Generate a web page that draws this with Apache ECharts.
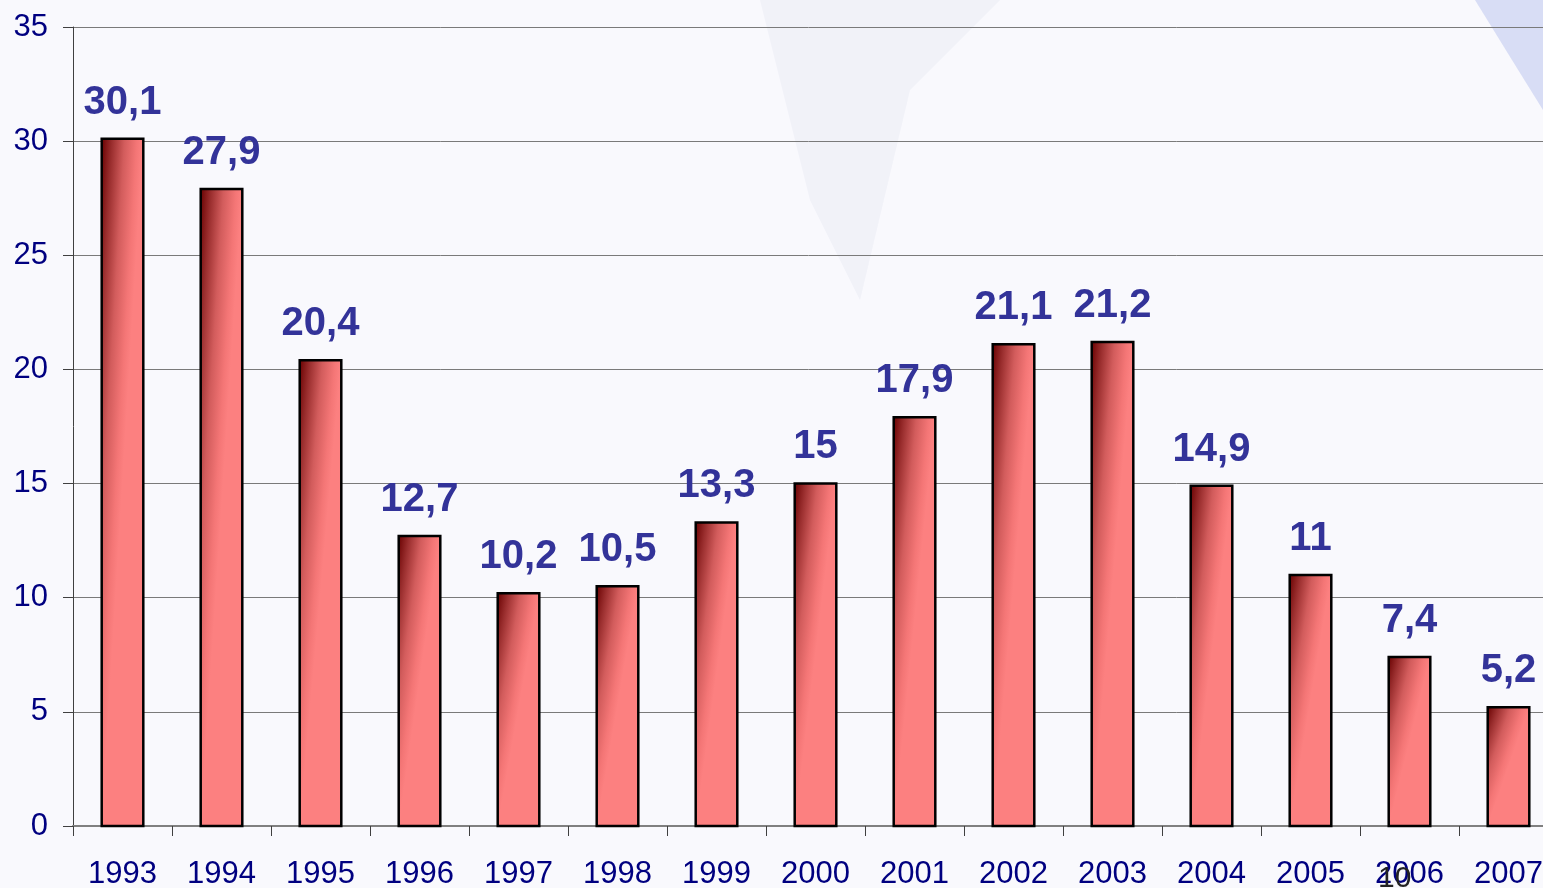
<!DOCTYPE html>
<html>
<head>
<meta charset="utf-8">
<script src="https://cdn.jsdelivr.net/npm/echarts@6/dist/echarts.min.js"></script>
<style>
  html, body { margin: 0; padding: 0; background: #f9f9fd; }
  #chart { width: 1543px; height: 888px; }
</style>
</head>
<body>
<div id="chart"></div>
<script>
// data
const years = ['1993', '1994', '1995', '1996', '1997', '1998', '1999', '2000',
  '2001', '2002', '2003', '2004', '2005', '2006', '2007'];
const values = [30.1, 27.9, 20.4, 12.7, 10.2, 10.5, 13.3, 15, 17.9, 21.1, 21.2, 14.9, 11, 7.4, 5.2];
const yTicks = [0, 5, 10, 15, 20, 25, 30, 35];

document.addEventListener('DOMContentLoaded', function(){
  const chart = echarts.init(document.getElementById('chart'));

  // diagonal gradient: dark in the top-left corner, pink toward bottom/right
  const stops = [
    { offset: 0, color: '#6a0202' },
    { offset: 0.25, color: '#9a2e2e' },
    { offset: 0.55, color: '#d25c5c' },
    { offset: 0.85, color: '#f47676' },
    { offset: 1, color: '#fc8080' }
  ];

  function renderBar(params, api){
    const idx = api.value(0);
    const v = api.value(1);
    const top = api.coord([idx, v]);
    const base = api.coord([idx, 0]);
    const w = api.size([1, 0])[0] * 0.42;
    const h = base[1] - top[1];
    const x0 = top[0] - w / 2;
    const y0 = top[1];
    const s = w * h / (h * h + w * w);
    return {
      type: 'rect',
      shape: { x: x0, y: y0, width: w, height: h },
      style: {
        fill: new echarts.graphic.LinearGradient(x0, y0, x0 + h * s, y0 + w * s, stops, true),
        stroke: '#000',
        lineWidth: 2.5
      },
      textContent: {
        style: {
          text: String(v).replace('.', ','),
          fontFamily: '"Liberation Sans", Arial, sans-serif',
          fontSize: 40,
          fontWeight: 'bold',
          fill: '#333399'
        }
      },
      textConfig: { position: 'top', distance: 15 }
    };
  }

  const option = {
    backgroundColor: '#f9f9fd',
    animation: false,
    graphic: [
      { type: 'polygon', z: -10, shape: { points: [[760, 0], [1000, 0], [910, 90], [860, 300], [810, 200]] },
        style: { fill: 'rgba(205,210,228,0.18)' } },
      { type: 'polygon', z: -10, shape: { points: [[1475, 0], [1543, 0], [1543, 110], [1512, 60]] },
        style: { fill: 'rgba(175,186,236,0.45)' } },
      { type: 'text', z: 10, left: 1378, top: 864,
        style: { text: '10', fontFamily: '"Liberation Sans", Arial, sans-serif', fontSize: 30, fill: '#222' } }
    ],
    grid: { left: 73, top: 27, width: 1485, height: 799, containLabel: false, outerBoundsMode: 'none' },
    xAxis: {
      type: 'category',
      data: years,
      axisLine: { lineStyle: { color: '#808080', width: 2 } },
      axisTick: { show: true, length: 10, lineStyle: { color: '#404040' } },
      axisLabel: {
        color: '#000080', fontSize: 31, margin: 33, interval: 0,
        fontFamily: '"Liberation Sans", Arial, sans-serif'
      },
      splitLine: { show: false }
    },
    yAxis: {
      type: 'value',
      min: yTicks[0],
      max: yTicks[yTicks.length - 1],
      interval: 5,
      axisLine: { show: true, lineStyle: { color: '#404040', width: 1 } },
      axisTick: { show: true, length: 10, lineStyle: { color: '#404040' } },
      axisLabel: {
        color: '#000080', fontSize: 31, margin: 25,
        fontFamily: '"Liberation Sans", Arial, sans-serif'
      },
      splitLine: { show: true, lineStyle: { color: '#7a7a7a', width: 1 } }
    },
    series: [{
      type: 'custom',
      renderItem: renderBar,
      data: values.map((v, i) => [i, v]),
      encode: { x: 0, y: 1 },
      z: 3
    }]
  };

  chart.setOption(option);
});
</script>
</body>
</html>
